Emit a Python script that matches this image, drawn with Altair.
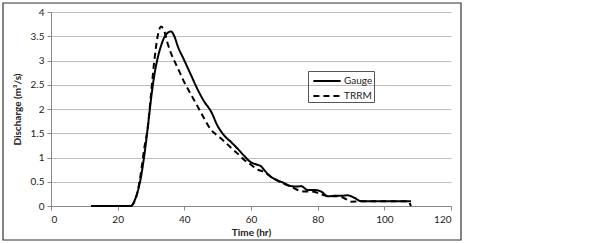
import altair as alt
import pandas as pd

gauge_t = [12, 16, 20, 22, 24, 25, 26, 27, 28, 29, 30, 31, 32, 33, 34, 35, 36, 37, 38, 40, 42, 44, 46, 48,
           50, 52, 54, 56, 58, 60, 62, 63, 64, 66, 68, 70, 72, 74, 75, 77, 79, 81, 83, 85, 87, 89, 91, 93,
           96, 100, 104, 108]
gauge_q = [0, 0, 0, 0, 0, 0.1, 0.3, 0.6, 1.05, 1.6, 2.2, 2.7, 3.05, 3.3, 3.48, 3.57, 3.6, 3.5, 3.3, 3.0,
           2.7, 2.4, 2.15, 1.95, 1.65, 1.45, 1.32, 1.18, 1.03, 0.9, 0.85, 0.82, 0.74, 0.6, 0.53, 0.47,
           0.41, 0.4, 0.41, 0.33, 0.33, 0.3, 0.2, 0.21, 0.21, 0.22, 0.17, 0.1, 0.1, 0.1, 0.1, 0.1]

trrm_t = [24, 25, 26, 27, 28, 29, 30, 31, 32, 33, 34, 35, 36, 38, 40, 42, 44, 46, 48, 50, 52, 54, 56,
          58, 60, 62, 64, 66, 68, 70, 72, 74, 76, 78, 80, 82, 84, 86, 88, 90, 95, 100, 107, 108]
trrm_q = [0, 0.08, 0.3, 0.7, 1.2, 1.6, 2.3, 3.0, 3.5, 3.7, 3.6, 3.35, 3.15, 2.85, 2.55, 2.3, 2.05, 1.8,
          1.57, 1.45, 1.33, 1.2, 1.08, 0.95, 0.85, 0.75, 0.7, 0.6, 0.52, 0.45, 0.4, 0.33, 0.3, 0.3, 0.27,
          0.22, 0.2, 0.2, 0.16, 0.09, 0.1, 0.1, 0.1, 0.0]

series_names = ["Gauge", "TRRM"]

df = pd.concat([
    pd.DataFrame({"t": gauge_t, "q": gauge_q, "series": series_names[0], "o": range(len(gauge_t))}),
    pd.DataFrame({"t": trrm_t, "q": trrm_q, "series": series_names[1], "o": range(len(trrm_t))}),
])

FONT = "Lato"

lines = alt.Chart(df).mark_line(color="black", strokeWidth=2, interpolate="monotone").encode(
    x=alt.X("t:Q", scale=alt.Scale(domain=[0, 120], nice=False),
            axis=alt.Axis(title="Time (hr)", values=[0, 20, 40, 60, 80, 100, 120], grid=False,
                          tickSize=4, tickColor="#888888", domainColor="#888888",
                          labelPadding=4, titlePadding=3)),
    y=alt.Y("q:Q", scale=alt.Scale(domain=[0, 4], nice=False),
            axis=alt.Axis(title="Discharge (m³/s)", values=[0, 0.5, 1, 1.5, 2, 2.5, 3, 3.5, 4],
                          format="~g",
                          grid=True, gridColor="#bdbdbd", tickSize=4, tickColor="#888888",
                          domainColor="#888888", labelPadding=3, titlePadding=8)),
    strokeDash=alt.StrokeDash("series:N",
                              scale=alt.Scale(domain=series_names, range=[[1, 0], [6, 4]]),
                              legend=alt.Legend(title=None, orient="none", legendX=257, legendY=59,
                                                strokeColor="#555555", padding=1,
                                                symbolType="M-1.7,0L1.7,0", symbolSize=256,
                                                symbolStrokeWidth=2, symbolFillColor="transparent",
                                                symbolStrokeColor="black", symbolOffset=9,
                                                rowPadding=1,
                                                labelFontSize=10, labelFont=FONT, labelColor="#222222",
                                                labelOffset=8)),
    order="o:Q",
)

frame = alt.Chart(pd.DataFrame({"a": [0]})).mark_rect(fill=None, stroke="#333333", strokeWidth=1.2).encode(
    x=alt.value(-48), x2=alt.value(410), y=alt.value(-9), y2=alt.value(228)
)

chart = alt.layer(lines, frame).properties(
    width=400, height=194,
    autosize=alt.AutoSizeParams(type="none"),
    padding={"left": 51, "top": 12, "right": 151, "bottom": 37},
    background="white",
).configure_view(stroke=None).configure_axis(
    labelFont=FONT, titleFont=FONT, labelFontSize=10, titleFontSize=10, titleFontWeight="bold",
    labelColor="#222222", titleColor="#222222",
)

chart.save("out.html", embed_options={"renderer": "svg", "actions": False})
